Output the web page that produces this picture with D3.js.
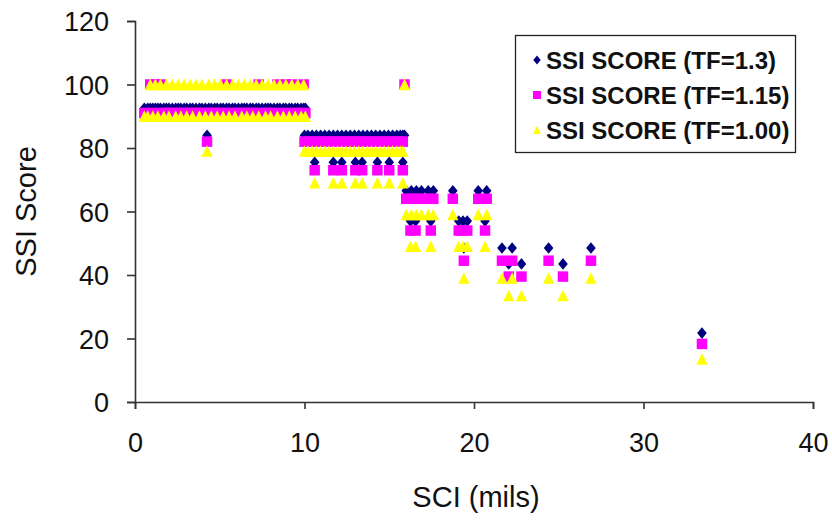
<!DOCTYPE html>
<html>
<head>
<meta charset="utf-8">
<script src="https://cdn.jsdelivr.net/npm/d3@7"></script>
<style>
  html, body { margin: 0; padding: 0; background: #fff; }
  svg { display: block; }
  text { font-family: "Liberation Sans", Arial, sans-serif; fill: #111; }
</style>
</head>
<body>
<svg id="chart" width="832" height="522"></svg>
<script>
// SCI (mils) for each pavement section
const sci = [
  0.55, 0.75, 0.9, 1.05, 1.2, 1.35, 1.5, 1.7, 1.85, 2.0, 2.2, 2.4, 2.55, 2.7, 2.9, 3.05, 3.25, 3.4, 3.6, 3.8,
  3.95, 4.15, 4.25, 4.35, 4.5, 4.7, 4.85, 5.05, 5.2, 5.4, 5.55, 5.75, 5.9, 6.1, 6.3, 6.45, 6.6, 6.8, 6.95, 7.15,
  7.3, 7.5, 7.7, 7.85, 8.0, 8.2, 8.4, 8.55, 8.75, 8.9, 9.1, 9.25, 9.45, 9.6, 9.8, 9.95, 10.05,
  10.0, 10.2, 10.45, 10.7, 10.95, 11.2, 11.45, 11.7, 11.95, 12.2, 12.45, 12.7, 12.95, 13.2, 13.45, 13.7, 13.95,
  14.2, 14.45, 14.7, 14.95, 15.2, 15.45, 15.65, 15.8,
  10.6, 11.7, 12.2, 13.0, 13.4, 14.3, 15.0, 15.8,
  15.9,
  16.0, 16.3, 16.6, 16.9, 17.3, 17.6, 18.75, 20.25, 20.75,
  16.25, 16.55, 17.45, 19.1, 19.35, 19.6, 20.65,
  19.4, 21.65, 22.25, 24.4, 26.9,
  22.05, 22.8, 25.25,
  33.45
];

// SSI score, traffic factor 1.3
const scoreTF130 = [
  92.5, 92.5, 92.5, 92.5, 92.5, 92.5, 92.5, 92.5, 92.5, 92.5, 92.5, 92.5, 92.5, 92.5, 92.5, 92.5, 92.5, 92.5, 92.5, 92.5,
  92.5, 92.5, 84, 92.5, 92.5, 92.5, 92.5, 92.5, 92.5, 92.5, 92.5, 92.5, 92.5, 92.5, 92.5, 92.5, 92.5, 92.5, 92.5, 92.5,
  92.5, 92.5, 92.5, 92.5, 92.5, 92.5, 92.5, 92.5, 92.5, 92.5, 92.5, 92.5, 92.5, 92.5, 92.5, 92.5, 92.5,
  84, 84, 84, 84, 84, 84, 84, 84, 84, 84, 84, 84, 84, 84, 84, 84, 84,
  84, 84, 84, 84, 84, 84, 84, 84,
  75.5, 75.5, 75.5, 75.5, 75.5, 75.5, 75.5, 75.5,
  84,
  66.5, 66.5, 66.5, 66.5, 66.5, 66.5, 66.5, 66.5, 66.5,
  57, 57, 57, 57, 57, 57, 57,
  48.5, 48.5, 48.5, 48.5, 48.5,
  43.5, 43.5, 43.5,
  21.7
];

// SSI score, traffic factor 1.15
const scoreTF115 = [
  91, 91, 100, 91, 100, 91, 100, 91, 91, 91, 91, 91, 91, 91, 91, 91, 91, 91, 91, 91,
  91, 91, 82, 91, 91, 91, 91, 91, 91, 100, 91, 91, 91, 91, 91, 91, 91, 91, 91, 91,
  100, 91, 91, 91, 91, 91, 100, 91, 91, 100, 91, 100, 91, 91, 91, 100, 91,
  82, 82, 82, 82, 82, 82, 82, 82, 82, 82, 82, 82, 82, 82, 82, 82, 82,
  82, 82, 82, 82, 82, 82, 82, 82,
  73, 73, 73, 73, 73, 73, 73, 73,
  100,
  64, 64, 64, 64, 64, 64, 64, 64, 64,
  54, 54, 54, 54, 54, 54, 54,
  44.5, 44.5, 44.5, 44.5, 44.5,
  39.5, 39.5, 39.5,
  18.3
];

// SSI score, traffic factor 1.00
const scoreTF100 = [
  90, 90, 100, 90, 100, 90, 100, 90, 100, 90, 100, 90, 100, 90, 100, 90, 100, 90, 100, 90,
  100, 90, 79, 100, 90, 100, 90, 100, 90, 100, 90, 100, 90, 100, 90, 100, 90, 100, 90, 100,
  90, 100, 90, 100, 90, 100, 90, 100, 90, 100, 90, 100, 90, 100, 90, 100, 90,
  79, 79, 79, 79, 79, 79, 79, 79, 79, 79, 79, 79, 79, 79, 79, 79, 79,
  79, 79, 79, 79, 79, 79, 79, 79,
  69, 69, 69, 69, 69, 69, 69, 69,
  100,
  59, 59, 59, 59, 59, 59, 59, 59, 59,
  49, 49, 49, 49, 49, 49, 49,
  39, 39, 39, 39, 39,
  33.5, 33.5, 33.5,
  13.5
];

const seriesNames = ["SSI SCORE (TF=1.3)", "SSI SCORE (TF=1.15)", "SSI SCORE (TF=1.00)"];
const seriesColors = ["#000080", "#ff00ff", "#ffff00"];
const xTicks = [0, 10, 20, 30, 40];
const yTicks = [0, 20, 40, 60, 80, 100, 120];

const svg = d3.select("#chart");

const x = d3.scaleLinear().domain([0, 40]).range([135, 813]);
const y = d3.scaleLinear().domain([0, 120]).range([402, 21]);

// marker shapes: tall diamond, square, triangle
const tallDiamond = {
  draw(ctx, size) {
    const w = Math.sqrt(size) / 2, h = w * 1.22;
    ctx.moveTo(0, -h); ctx.lineTo(w, 0); ctx.lineTo(0, h); ctx.lineTo(-w, 0); ctx.closePath();
  }
};
const wideTriangle = {
  draw(ctx, size) {
    const w = Math.sqrt(size) / 2;
    ctx.moveTo(0, -w * 1.05); ctx.lineTo(w, w); ctx.lineTo(-w, w); ctx.closePath();
  }
};
const shapes = [
  d3.symbol().type(tallDiamond).size(92),
  d3.symbol().type(d3.symbolSquare).size(110),
  d3.symbol().type(wideTriangle).size(128)
];
const legendShapes = [
  d3.symbol().type(tallDiamond).size(56),
  d3.symbol().type(d3.symbolSquare).size(64),
  d3.symbol().type(wideTriangle).size(64)
];

const seriesValues = [scoreTF130, scoreTF115, scoreTF100];

// axes
const axisColor = "#333";
const xAxis = svg.append("g").attr("transform", `translate(0,${y(0)})`)
  .call(d3.axisBottom(x).tickValues(xTicks).tickSize(7).tickFormat(d3.format("d")));
const yAxis = svg.append("g").attr("transform", `translate(${x(0)},0)`)
  .call(d3.axisLeft(y).tickValues(yTicks).tickSize(8).tickFormat(d3.format("d")));
[xAxis, yAxis].forEach(g => {
  g.select(".domain").attr("stroke", axisColor).attr("stroke-width", 1.6);
  g.selectAll(".tick line").attr("stroke", axisColor).attr("stroke-width", 1.6);
  g.selectAll(".tick text")
    .attr("font-family", "'Liberation Sans', Arial, sans-serif")
    .attr("font-size", 27).attr("fill", "#111");
});
xAxis.selectAll(".tick text").attr("dy", "0").attr("y", 50);
yAxis.selectAll(".tick text").attr("x", -26).attr("dy", "0.36em");

// points, one layer per series
seriesValues.forEach((vals, s) => {
  svg.append("g").selectAll("path")
    .data(sci.map((v, i) => [v, vals[i]]))
    .join("path")
    .attr("d", shapes[s]())
    .attr("transform", d => `translate(${x(d[0])},${y(d[1])})`)
    .attr("fill", seriesColors[s]);
});

// axis titles
svg.append("text")
  .attr("x", (x(0) + x(40)) / 2 + 2).attr("y", 507)
  .attr("text-anchor", "middle").attr("font-size", 29)
  .text("SCI (mils)");
svg.append("text")
  .attr("transform", `translate(36,${(y(0) + y(120)) / 2}) rotate(-90)`)
  .attr("text-anchor", "middle").attr("font-size", 29)
  .text("SSI Score");

// legend
const lg = svg.append("g");
lg.append("rect").attr("x", 515.5).attr("y", 35.5).attr("width", 280).attr("height", 117)
  .attr("fill", "#fff").attr("stroke", "#222").attr("stroke-width", 1.3);
seriesNames.forEach((name, s) => {
  const cy = 60 + s * 35;
  lg.append("path").attr("d", legendShapes[s]()).attr("transform", `translate(537,${cy})`)
    .attr("fill", seriesColors[s]);
  lg.append("text").attr("x", 546).attr("y", cy).attr("dy", "0.36em")
    .attr("font-size", 24).attr("font-weight", "bold").text(name);
});
</script>
</body>
</html>
